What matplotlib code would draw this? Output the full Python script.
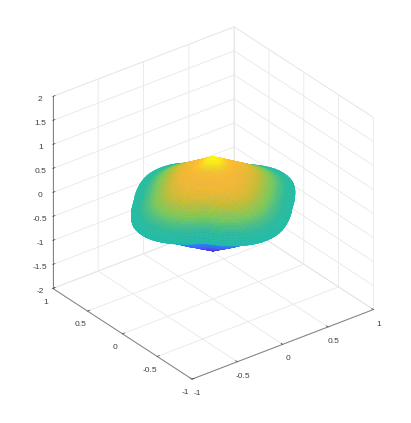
import matplotlib
matplotlib.use('Agg')
import matplotlib.pyplot as plt
from matplotlib.colors import LinearSegmentedColormap
import numpy as np

plt.rcParams['font.family'] = ['Liberation Sans', 'DejaVu Sans']

# rows of the body from the top tip to the bottom tip
row_radius = [0.0, 0.02, 0.04, 0.06, 0.08, 0.1, 0.12, 0.14, 0.16, 0.18, 0.2, 0.22, 0.24, 0.26, 0.28, 0.3,
              0.32, 0.34, 0.36, 0.38, 0.4, 0.42, 0.44, 0.46, 0.48, 0.5, 0.52, 0.54, 0.56, 0.58, 0.6,
              0.62, 0.64, 0.66, 0.68, 0.7, 0.74, 0.77, 0.785, 0.785, 0.77, 0.74, 0.7,
              0.63, 0.56, 0.49, 0.42, 0.35, 0.28, 0.21, 0.14, 0.07, 0.0]
row_z = [0.97, 0.945, 0.919, 0.894, 0.868, 0.843, 0.818, 0.792, 0.767, 0.741, 0.716, 0.691, 0.665, 0.64,
         0.614, 0.589, 0.564, 0.538, 0.513, 0.487, 0.462, 0.437, 0.411, 0.386, 0.36, 0.335, 0.31, 0.284,
         0.259, 0.233, 0.208, 0.183, 0.157, 0.132, 0.106, 0.081, 0.05, 0.025, -0.01, -0.05, -0.08, -0.1, -0.13,
         -0.22, -0.31, -0.4, -0.49, -0.58, -0.66, -0.75, -0.83, -0.92, -1.0]
row_colour = [1.0, 0.99, 0.98, 0.965, 0.95, 0.93, 0.91, 0.895, 0.885, 0.88, 0.875, 0.87, 0.865, 0.86, 0.855,
              0.85, 0.84, 0.83, 0.815, 0.8, 0.78, 0.76, 0.74, 0.72, 0.7, 0.68, 0.66, 0.64, 0.62, 0.6,
              0.58, 0.56, 0.54, 0.525, 0.51, 0.49, 0.47, 0.46, 0.45, 0.43, 0.36, 0.3, 0.26,
              0.22, 0.2, 0.18, 0.16, 0.14, 0.12, 0.1, 0.08, 0.06, 0.04]
# radius scale across half a turn: axis, diagonal, axis, other diagonal
half_scale = [1.0, 0.998, 0.992, 0.98, 0.965, 0.948, 0.93, 0.91, 0.89, 0.87, 0.85, 0.835, 0.825,
              0.835, 0.85, 0.87, 0.89, 0.91, 0.93, 0.948, 0.965, 0.98, 0.992, 0.998,
              1.0, 0.998, 0.993, 0.985, 0.972, 0.958, 0.944, 0.93, 0.918, 0.908, 0.9, 0.893, 0.89,
              0.893, 0.9, 0.908, 0.918, 0.93, 0.944, 0.958, 0.972, 0.985, 0.993, 0.998]
# how far the rim tilts up or down over half a turn, the other half is the negative
half_lift = [0.06, 0.058, 0.055, 0.052, 0.049, 0.046, 0.043, 0.039, 0.035, 0.031, 0.027, 0.022, 0.018, 0.013,
             0.009, 0.004, 0.0, -0.004, -0.009, -0.013, -0.018, -0.022, -0.027, -0.031, -0.035, -0.039,
             -0.043, -0.046, -0.05, -0.053, -0.055, -0.058, -0.06, -0.063, -0.064, -0.066, -0.068, -0.069,
             -0.069, -0.07, -0.07, -0.07, -0.069, -0.069, -0.068, -0.066, -0.064, -0.063]

ticks_xy = [-1, -0.5, 0, 0.5, 1]
labels_xy = ['-1', '-0.5', '0', '0.5', '1']
ticks_z = [-2, -1.5, -1, -0.5, 0, 0.5, 1, 1.5, 2]
labels_z = ['-2', '-1.5', '-1', '-0.5', '0', '0.5', '1', '1.5', '2']

parula = LinearSegmentedColormap.from_list('parula', [
    (0.2422, 0.1504, 0.6603), (0.2780, 0.3556, 0.9777), (0.1540, 0.5902, 0.9218),
    (0.0704, 0.7457, 0.7258), (0.1953, 0.7400, 0.6000), (0.5044, 0.7993, 0.3480),
    (0.8000, 0.7500, 0.2000), (0.9955, 0.7300, 0.2000), (0.9769, 0.9839, 0.0805)])

scale = np.tile(half_scale, 2)
scale = np.append(scale, scale[0])
lift = np.concatenate([half_lift, -np.array(half_lift)])
lift = np.append(lift, lift[0])
lon = np.radians(np.linspace(0, 360, len(scale)))
r = np.outer(row_radius, scale)
X = r * np.cos(lon)
Y = r * np.sin(lon)
Z = np.outer(row_z, np.ones(len(scale))) + np.outer(row_radius, lift)
C = np.array(row_colour)
C = (C[:-1] + C[1:]) / 2
facecolors = parula(np.outer(C, np.ones(len(scale) - 1)))

fig = plt.figure(figsize=(4.11, 4.23), dpi=100)
ax = fig.add_axes([0.005, 0.007, 1, 1], projection='3d', proj_type='ortho')
ax.view_init(elev=30, azim=-127.5)
ax.set_box_aspect((1, 1, 0.97), zoom=0.926)

ax.plot_surface(X, Y, Z, facecolors=facecolors, shade=False, linewidth=0.3,
                rcount=len(row_z), ccount=len(scale))

ax.set_xlim(-1, 1)
ax.set_ylim(-1, 1)
ax.set_zlim(-2, 2)
ax.set_xticks(ticks_xy, labels_xy)
ax.set_yticks(ticks_xy, labels_xy)
ax.set_zticks(ticks_z, labels_z)
ax.tick_params(labelsize=6, colors='#404040', pad=-2)

for axis in [ax.xaxis, ax.yaxis, ax.zaxis]:
    axis.set_pane_color((1, 1, 1, 1))
    axis.pane.set_edgecolor('#e8e8e8')
    axis.pane.set_linewidth(0.5)
    axis.line.set_color('#808080')
    axis.line.set_linewidth(0.7)
    axis._axinfo['grid'].update(color='#e8e8e8', linewidth=0.6)
    axis._axinfo['tick'].update(inward_factor=0, outward_factor=0.15, linewidth={True: 0.5, False: 0.5})

fig.savefig('out.png', dpi=100)
